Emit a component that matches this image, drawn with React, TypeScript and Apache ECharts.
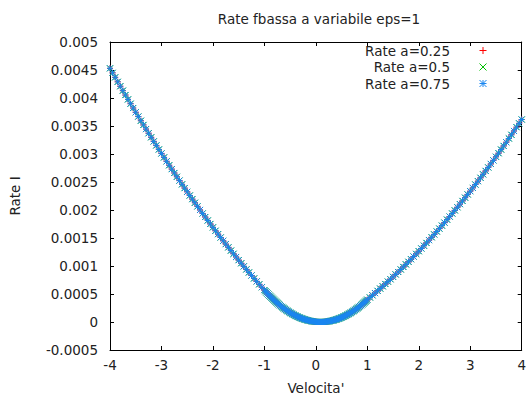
import React, { useEffect, useRef } from 'react';
import * as echarts from 'echarts';

const titleText = 'Rate fbassa a variabile eps=1';
const xAxisName = "Velocita'";
const yAxisName = 'Rate I';
const seriesNames = ['Rate a=0.25', 'Rate a=0.5', 'Rate a=0.75'];
const seriesColors = ['#ff0000', '#00c000', '#1a86f0'];

const velocityLeft = [
  -4.0, -3.95, -3.9, -3.85, -3.8, -3.75, -3.7, -3.65, -3.6, -3.55, -3.5, -3.45, -3.4, -3.35, -3.3,
  -3.25, -3.2, -3.15, -3.1, -3.05, -3.0, -2.95, -2.9, -2.85, -2.8, -2.75, -2.7, -2.65, -2.6, -2.55,
  -2.5, -2.45, -2.4, -2.35, -2.3, -2.25, -2.2, -2.15, -2.1, -2.05, -2.0, -1.95, -1.9, -1.85, -1.8,
  -1.75, -1.7, -1.65, -1.6, -1.55, -1.5, -1.45, -1.4, -1.35, -1.3, -1.25, -1.2, -1.15, -1.1, -1.05,
];
const rateLeft = [
  0.00453, 0.004449, 0.004369, 0.004289, 0.00421, 0.004131, 0.004053, 0.003975, 0.003898, 0.003821,
  0.003745, 0.003669, 0.003594, 0.003519, 0.003445, 0.003371, 0.003298, 0.003225, 0.003153, 0.003081,
  0.00301, 0.002939, 0.002869, 0.002799, 0.00273, 0.002661, 0.002593, 0.002525, 0.002458, 0.002391,
  0.002325, 0.002259, 0.002194, 0.002129, 0.002065, 0.002001, 0.001938, 0.001875, 0.001813, 0.001751,
  0.00169, 0.001629, 0.001569, 0.001509, 0.00145, 0.001391, 0.001333, 0.001275, 0.001218, 0.001161,
  0.001105, 0.001049, 0.000994, 0.000939, 0.000885, 0.000831, 0.000778, 0.000725, 0.000673, 0.000621,
];

const velocityCore = [
  -1.0, -0.98, -0.96, -0.94, -0.92, -0.9, -0.88, -0.86, -0.84, -0.82, -0.8, -0.78, -0.76, -0.74, -0.72,
  -0.7, -0.68, -0.66, -0.64, -0.62, -0.6, -0.58, -0.56, -0.54, -0.52, -0.5, -0.48, -0.46, -0.44, -0.42,
  -0.4, -0.38, -0.36, -0.34, -0.32, -0.3, -0.28, -0.26, -0.24, -0.22, -0.2, -0.18, -0.16, -0.14, -0.12,
  -0.1, -0.08, -0.06, -0.04, -0.02, 0.0, 0.02, 0.04, 0.06, 0.08, 0.1, 0.12, 0.14, 0.16, 0.18,
  0.2, 0.22, 0.24, 0.26, 0.28, 0.3, 0.32, 0.34, 0.36, 0.38, 0.4, 0.42, 0.44, 0.46, 0.48,
  0.5, 0.52, 0.54, 0.56, 0.58, 0.6, 0.62, 0.64, 0.66, 0.68, 0.7, 0.72, 0.74, 0.76, 0.78,
  0.8, 0.82, 0.84, 0.86, 0.88, 0.9, 0.92, 0.94, 0.96, 0.98, 1.0,
];
const rateCore = [
  0.00057, 0.00055, 0.000529, 0.000509, 0.00049, 0.00047, 0.000452, 0.000433, 0.000415, 0.000398,
  0.00038, 0.000363, 0.000347, 0.000331, 0.000315, 0.0003, 0.000285, 0.00027, 0.000256, 0.000242,
  0.000229, 0.000216, 0.000203, 0.000191, 0.000179, 0.000167, 0.000156, 0.000145, 0.000135, 0.000125,
  0.000115, 0.000106, 0.0000972, 0.0000888, 0.0000807, 0.000073, 0.0000657, 0.0000588, 0.0000523, 0.0000461,
  0.0000404, 0.000035, 0.00003, 0.0000254, 0.0000212, 0.0000173, 0.0000139, 0.0000108, 0.0000081, 0.0000058,
  0.0000039, 0.0000024, 0.0000012, 0.0000004, 0.0, 0.0, 0.0000004, 0.0000012, 0.0000024, 0.0000039,
  0.0000058, 0.0000081, 0.0000108, 0.0000139, 0.0000173, 0.0000212, 0.0000254, 0.00003, 0.000035, 0.0000404,
  0.0000461, 0.0000523, 0.0000588, 0.0000657, 0.000073, 0.0000807, 0.0000888, 0.0000972, 0.000106, 0.000115,
  0.000125, 0.000135, 0.000145, 0.000156, 0.000167, 0.000179, 0.000191, 0.000203, 0.000216, 0.000229,
  0.000242, 0.000256, 0.00027, 0.000285, 0.0003, 0.000315, 0.000331, 0.000347, 0.000363, 0.00038,
  0.000398,
];

const velocityRight = [
  1.05, 1.1, 1.15, 1.2, 1.25, 1.3, 1.35, 1.4, 1.45, 1.5, 1.55, 1.6, 1.65, 1.7, 1.75,
  1.8, 1.85, 1.9, 1.95, 2.0, 2.05, 2.1, 2.15, 2.2, 2.25, 2.3, 2.35, 2.4, 2.45, 2.5,
  2.55, 2.6, 2.65, 2.7, 2.75, 2.8, 2.85, 2.9, 2.95, 3.0, 3.05, 3.1, 3.15, 3.2, 3.25,
  3.3, 3.35, 3.4, 3.45, 3.5, 3.55, 3.6, 3.65, 3.7, 3.75, 3.8, 3.85, 3.9, 3.95, 4.0,
];
const rateRight = [
  0.000438, 0.000477, 0.000516, 0.000556, 0.000597, 0.000637, 0.000679, 0.000721, 0.000763, 0.000806,
  0.00085, 0.000893, 0.000938, 0.000983, 0.001029, 0.001075, 0.001121, 0.001168, 0.001216, 0.001264,
  0.001313, 0.001362, 0.001412, 0.001462, 0.001513, 0.001564, 0.001616, 0.001668, 0.001721, 0.001774,
  0.001828, 0.001882, 0.001937, 0.001993, 0.002049, 0.002105, 0.002162, 0.00222, 0.002278, 0.002336,
  0.002395, 0.002455, 0.002515, 0.002575, 0.002637, 0.002698, 0.00276, 0.002823, 0.002886, 0.00295,
  0.003014, 0.003079, 0.003144, 0.00321, 0.003277, 0.003343, 0.003411, 0.003479, 0.003547, 0.003616,
];

const FONT = 'DejaVu Sans';
const FS = 13.5;
const TEXT = '#222';

const symbolPaths = [
  'path://M0 4L8 4M4 0L4 8',
  'path://M0 0L8 8M0 8L8 0',
  'path://M0 4L8 4M4 0L4 8M0 0L8 8M0 8L8 0',
];

function buildPoints(): number[][] {
  const xs = [...velocityLeft, ...velocityCore, ...velocityRight];
  const ys = [...rateLeft, ...rateCore, ...rateRight];
  return xs.map((x, i) => [x, ys[i]]);
}

function legendGraphics() {
  const items: any[] = [];
  const rowsY = [50.5, 67, 83.5];
  const textRight = 450;
  const cx = 483;
  const h = 3.5;
  seriesNames.forEach((name, i) => {
    const y = rowsY[i];
    const c = seriesColors[i];
    items.push({
      type: 'text',
      x: textRight,
      y,
      style: { text: name, fill: TEXT, font: `${FS}px "${FONT}"`, textAlign: 'right', textVerticalAlign: 'middle' },
    });
    const lines: number[][] = [];
    if (i === 0 || i === 2) {
      lines.push([cx - h, y, cx + h, y], [cx, y - h, cx, y + h]);
    }
    if (i === 1 || i === 2) {
      lines.push([cx - h, y - h, cx + h, y + h], [cx - h, y + h, cx + h, y - h]);
    }
    lines.forEach((l) =>
      items.push({
        type: 'line',
        shape: { x1: l[0], y1: l[1], x2: l[2], y2: l[3] },
        style: { stroke: c, lineWidth: 1 },
      })
    );
  });
  return items;
}

export default function App() {
  const ref = useRef<HTMLDivElement>(null);
  useEffect(() => {
    if (!ref.current) return;
    const chart = echarts.init(ref.current, null, { renderer: 'svg' });
    const points = buildPoints();
    const axisCommon = {
      axisLine: { show: true, onZero: false, lineStyle: { color: '#000', width: 1 } },
      axisTick: { show: true, inside: true, length: 4, lineStyle: { color: '#000', width: 1 } },
      splitLine: { show: false },
    };
    chart.setOption({
      animation: false,
      backgroundColor: '#fff',
      title: {
        text: titleText,
        left: 314,
        textAlign: 'center',
        top: 7,
        textStyle: { fontFamily: FONT, fontSize: FS, fontWeight: 'normal', color: TEXT },
      },
      grid: { left: 110, right: 7, top: 42, bottom: 51, containLabel: false },
      xAxis: [
        {
          type: 'value',
          min: -4,
          max: 4,
          interval: 1,
          position: 'bottom',
          ...axisCommon,
          axisLabel: { margin: 8, fontSize: FS, color: TEXT, fontFamily: FONT },
          name: xAxisName,
          nameLocation: 'middle',
          nameGap: 31,
          nameTextStyle: { fontSize: FS, color: TEXT, fontFamily: FONT },
        },
        {
          type: 'value',
          min: -4,
          max: 4,
          interval: 1,
          position: 'top',
          ...axisCommon,
          axisLabel: { show: false },
        },
      ],
      yAxis: [
        {
          type: 'value',
          min: -0.0005,
          max: 0.005,
          interval: 0.0005,
          position: 'left',
          ...axisCommon,
          axisLabel: { margin: 12, fontSize: FS, color: TEXT, fontFamily: FONT },
          name: yAxisName,
          nameLocation: 'middle',
          nameGap: 88,
          nameTextStyle: { fontSize: FS, color: TEXT, fontFamily: FONT },
        },
        {
          type: 'value',
          min: -0.0005,
          max: 0.005,
          interval: 0.0005,
          position: 'right',
          ...axisCommon,
          axisLabel: { show: false },
        },
      ],
      series: seriesNames.map((name, i) => ({
        name,
        type: 'scatter',
        xAxisIndex: 0,
        yAxisIndex: 0,
        data: points,
        symbol: symbolPaths[i],
        symbolSize: 6,
        silent: true,
        itemStyle: { color: seriesColors[i], borderColor: seriesColors[i], borderWidth: 1, opacity: 1 },
        emphasis: { disabled: true },
      })),
      graphic: legendGraphics(),
    });
    return () => chart.dispose();
  }, []);
  return (
    <div
      ref={ref}
      style={{ position: 'fixed', left: 0, top: 0, width: 529, height: 401, background: '#fff' }}
    />
  );
}
